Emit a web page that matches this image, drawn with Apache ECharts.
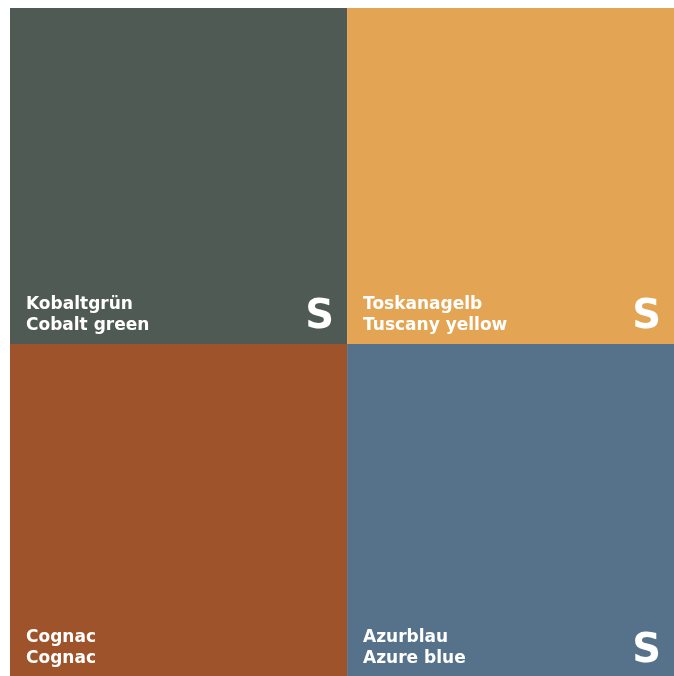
<!DOCTYPE html>
<html>
<head>
<meta charset="utf-8">
<script src="https://cdn.jsdelivr.net/npm/echarts@6/dist/echarts.min.js"></script>
<style>
  html, body { margin: 0; padding: 0; background: #ffffff; }
  #chart { width: 674px; height: 676px; }
</style>
</head>
<body>
<div id="chart"></div>
<script>
// 2x2 colour swatch board, drawn as a custom series on hidden value axes.
var germanNames  = ["Kobaltgrün", "Toskanagelb", "Cognac", "Azurblau"];
var englishNames = ["Cobalt green", "Tuscany yellow", "Cognac", "Azure blue"];
var swatchColors = ["#4e5a53", "#e3a553", "#9e532a", "#56728a"];
var showMark     = [true, true, false, true];
var swatchCol    = [0, 1, 0, 1];
var swatchRow    = [0, 0, 1, 1];

var FONT = "DejaVu Sans";

var data = germanNames.map(function (n, i) {
  return { value: [swatchCol[i], swatchRow[i]], itemStyle: { color: swatchColors[i] } };
});

function renderItem(params, api) {
  var i = params.dataIndex;
  var c = api.value(0), r = api.value(1);
  var p0 = api.coord([c, r]);
  var p1 = api.coord([c + 1, r + 1]);
  var cs = params.coordSys;
  var x0 = p0[0], y0 = p0[1];
  var x1 = Math.min(p1[0], cs.x + cs.width);
  var y1 = Math.min(p1[1], cs.y + cs.height);
  var dy = r === 0 ? 0 : 1;
  var kids = [{
    type: "rect",
    z2: 0,
    shape: { x: x0, y: y0, width: x1 - x0, height: y1 - y0 },
    style: { fill: swatchColors[i] }
  }, {
    type: "text",
    z2: 10,
    style: { x: x0 + 16, y: y1 - 48 + dy, text: germanNames[i], fill: "#ffffff",
      font: "bold 17px '" + FONT + "'", textAlign: "left", textVerticalAlign: "top" }
  }, {
    type: "text",
    z2: 10,
    style: { x: x0 + 16, y: y1 - 27 + dy, text: englishNames[i], fill: "#ffffff",
      font: "bold 17px '" + FONT + "'", textAlign: "left", textVerticalAlign: "top" }
  }];
  if (showMark[i]) {
    kids.push({
      type: "text",
      z2: 10,
      style: { x: x1 - 13, y: y1 - 46 + 2 * dy, text: "S", fill: "#ffffff",
        font: "bold 40px '" + FONT + "'", textAlign: "right", textVerticalAlign: "top" }
    });
  }
  return { type: "group", children: kids };
}

var chart = echarts.init(document.getElementById("chart"));
chart.setOption({
  animation: false,
  backgroundColor: "#ffffff",
  grid: { left: 10, top: 8, right: 0, bottom: 0 },
  xAxis: { type: "value", min: 0, max: 1.97, show: false },
  yAxis: { type: "value", min: 0, max: 1.988, inverse: true, show: false },
  series: [{
    type: "custom",
    renderItem: renderItem,
    data: data,
    clip: true
  }]
});
</script>
</body>
</html>
